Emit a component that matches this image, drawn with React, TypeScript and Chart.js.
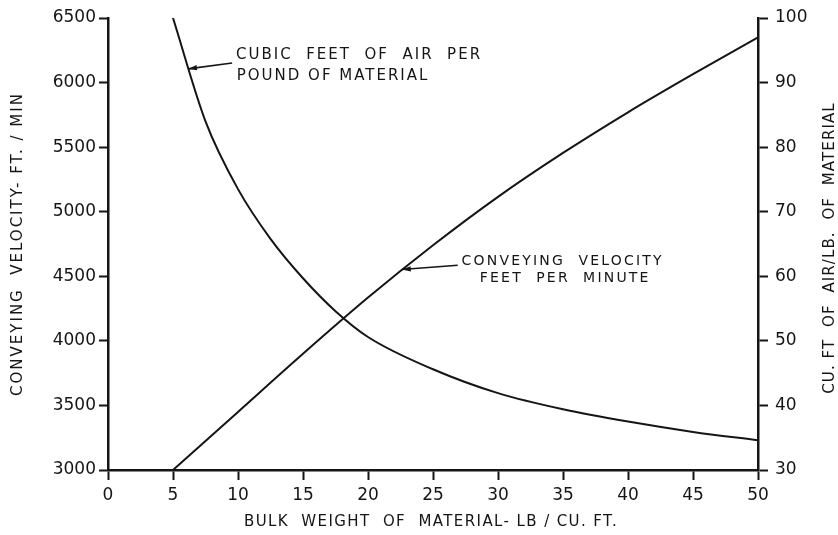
import React, { useEffect, useRef } from 'react';
import { Chart, registerables } from 'chart.js';

Chart.register(...registerables);

// ---- data ----
const velocityWeights = [5, 10, 15, 20, 25, 30, 35, 40, 45, 50];
const velocityFpm = [3000, 3450, 3900, 4335, 4740, 5115, 5455, 5770, 6065, 6350];

const airWeights = [5, 7.5, 10, 12.5, 15, 17.5, 20, 25, 30, 35, 40, 45, 50];
const airCuFtPerLb = [100, 84, 73.5, 65.8, 59.7, 54.6, 50.6, 45.6, 41.9, 39.4, 37.5, 35.9, 34.6];

const xTickValues = [0, 5, 10, 15, 20, 25, 30, 35, 40, 45, 50];
const leftTickValues = [3000, 3500, 4000, 4500, 5000, 5500, 6000, 6500];
const rightTickValues = [30, 40, 50, 60, 70, 80, 90, 100];

const xTitle = 'BULK  WEIGHT  OF  MATERIAL- LB / CU. FT.';
const leftTitle = 'CONVEYING  VELOCITY- FT. / MIN';
const rightTitle = 'CU. FT  OF  AIR/LB.  OF  MATERIAL';

const airLabelLines = ['CUBIC  FEET  OF  AIR  PER', 'POUND OF MATERIAL'];
const velocityLabelLines = ['CONVEYING  VELOCITY', 'FEET  PER  MINUTE'];

// annotation anchors in data units (x: bulk weight, y: velocity scale)
const airLabelAt = [{ x: 9.85, y: 6214 }, { x: 9.9, y: 6052 }];
const airArrowFrom = { x: 9.55, y: 6152 };
const airArrowTo = { x: 6.15, y: 6106 };
const velLabelAt = [{ x: 27.2, y: 4618 }, { x: 28.6, y: 4485 }];
const velArrowFrom = { x: 26.9, y: 4585 };
const velArrowTo = { x: 22.6, y: 4552 };

const INK = '#151515';
const FONT = '"DejaVu Sans", "Liberation Sans", sans-serif';

function drawArrow(ctx: CanvasRenderingContext2D, x1: number, y1: number, x2: number, y2: number) {
  ctx.beginPath();
  ctx.moveTo(x1, y1);
  ctx.lineTo(x2, y2);
  ctx.lineWidth = 1.6;
  ctx.stroke();
  const ang = Math.atan2(y2 - y1, x2 - x1);
  const len = 9;
  const w = 2.6;
  ctx.beginPath();
  ctx.moveTo(x2, y2);
  ctx.lineTo(x2 - len * Math.cos(ang) + w * Math.sin(ang), y2 - len * Math.sin(ang) - w * Math.cos(ang));
  ctx.lineTo(x2 - len * Math.cos(ang) - w * Math.sin(ang), y2 - len * Math.sin(ang) + w * Math.cos(ang));
  ctx.closePath();
  ctx.fill();
}

const overlayPlugin = {
  id: 'overlay',
  afterDraw(chart: any) {
    const { ctx, chartArea, scales } = chart;
    const xs = scales.x;
    const ys = scales.y;
    const px = (p: { x: number; y: number }) => [xs.getPixelForValue(p.x), ys.getPixelForValue(p.y)];
    ctx.save();
    ctx.fillStyle = INK;
    ctx.strokeStyle = INK;

    // axis titles
    ctx.font = `15px ${FONT}`;
    ctx.textAlign = 'center';
    ctx.textBaseline = 'middle';
    (ctx as any).letterSpacing = '1.4px';
    ctx.fillText(xTitle, (chartArea.left + chartArea.right) / 2 - 2, chart.height - 13);

    (ctx as any).letterSpacing = '2px';
    ctx.save();
    ctx.translate(18.5, (chartArea.top + chartArea.bottom) / 2);
    ctx.rotate(-Math.PI / 2);
    ctx.fillText(leftTitle, 0, 0);
    ctx.restore();

    (ctx as any).letterSpacing = '1.1px';
    ctx.save();
    ctx.translate(chart.width - 8, (chartArea.top + chartArea.bottom) / 2 + 4);
    ctx.rotate(-Math.PI / 2);
    ctx.fillText(rightTitle, 0, 0);
    ctx.restore();

    // annotations
    ctx.textAlign = 'left';
    ctx.font = `15px ${FONT}`;
    (ctx as any).letterSpacing = '2px';
    airLabelLines.forEach((t, i) => {
      const [x, y] = px(airLabelAt[i]);
      ctx.fillText(t, x, y);
    });
    ctx.font = `14px ${FONT}`;
    (ctx as any).letterSpacing = '2.2px';
    velocityLabelLines.forEach((t, i) => {
      const [x, y] = px(velLabelAt[i]);
      ctx.fillText(t, x, y);
    });
    {
      const [a, b] = px(airArrowFrom);
      const [c, d] = px(airArrowTo);
      drawArrow(ctx, a, b, c, d);
    }
    {
      const [a, b] = px(velArrowFrom);
      const [c, d] = px(velArrowTo);
      drawArrow(ctx, a, b, c, d);
    }
    ctx.restore();
  },
};

export default function App() {
  const ref = useRef<HTMLCanvasElement | null>(null);
  useEffect(() => {
    if (!ref.current) return;
    const tickFont = { family: FONT, size: 17 };
    const plain = (v: any) => String(v);
    const chart = new Chart(ref.current, {
      type: 'line',
      data: {
        datasets: [
          {
            label: 'Conveying velocity (ft/min)',
            data: velocityWeights.map((x, i) => ({ x, y: velocityFpm[i] })),
            yAxisID: 'y',
            borderColor: INK,
            borderWidth: 2,
            pointRadius: 0,
            cubicInterpolationMode: 'monotone',
            fill: false,
          },
          {
            label: 'Cu. ft of air per lb of material',
            data: airWeights.map((x, i) => ({ x, y: airCuFtPerLb[i] })),
            yAxisID: 'y2',
            borderColor: INK,
            borderWidth: 2,
            pointRadius: 0,
            cubicInterpolationMode: 'monotone',
            fill: false,
          },
        ],
      },
      options: {
        animation: false,
        responsive: true,
        maintainAspectRatio: false,
        layout: { padding: { top: 18, left: 0, right: 0, bottom: 0 } },
        plugins: { legend: { display: false }, tooltip: { enabled: false } },
        scales: {
          x: {
            type: 'linear',
            min: 0,
            max: 50,
            afterBuildTicks: (s: any) => { s.ticks = xTickValues.map((v) => ({ value: v })); },
            afterFit: (s: any) => { s.height = 65; },
            ticks: { color: INK, font: tickFont, padding: 5, maxRotation: 0, callback: plain },
            grid: { display: true, drawOnChartArea: false, drawTicks: true, tickLength: 10, tickWidth: 2, tickColor: INK },
            border: { display: true, color: INK, width: 2.5 },
          },
          y: {
            type: 'linear',
            position: 'left',
            min: 3000,
            max: 6500,
            afterBuildTicks: (s: any) => { s.ticks = leftTickValues.map((v) => ({ value: v })); },
            afterFit: (s: any) => { s.width = 108; },
            ticks: { color: INK, font: tickFont, padding: 3, callback: plain },
            grid: { display: true, drawOnChartArea: false, drawTicks: true, tickLength: 9, tickWidth: 2, tickColor: INK },
            border: { display: true, color: INK, width: 2.5 },
          },
          y2: {
            type: 'linear',
            position: 'right',
            min: 30,
            max: 100,
            afterBuildTicks: (s: any) => { s.ticks = rightTickValues.map((v) => ({ value: v })); },
            afterFit: (s: any) => { s.width = 80; },
            ticks: { color: INK, font: tickFont, padding: 7, callback: plain },
            grid: { display: true, drawOnChartArea: false, drawTicks: true, tickLength: 10, tickWidth: 2, tickColor: INK },
            border: { display: true, color: INK, width: 2.5 },
          },
        },
      },
      plugins: [overlayPlugin],
    } as any);
    return () => chart.destroy();
  }, []);
  return (
    <div style={{ position: 'absolute', left: 0, top: 0, width: 838, height: 535, background: '#fff' }}>
      <canvas ref={ref} />
    </div>
  );
}
